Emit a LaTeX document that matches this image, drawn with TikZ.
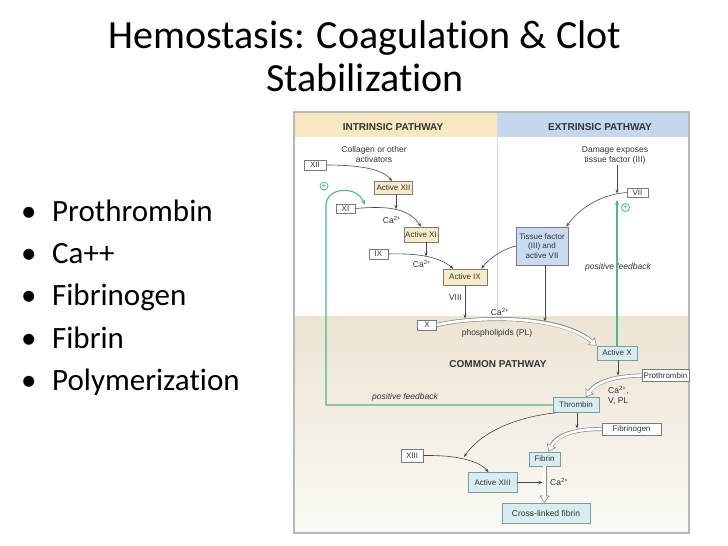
\documentclass[tikz,border=0pt]{standalone}
\usepackage{fontspec}
\setmainfont{Carlito}[Ligatures={NoCommon,NoContextual}, Contextuals=NoAlternate]
\newfontfamily\dfont{Liberation Sans}
\usetikzlibrary{arrows.meta}
\definecolor{inthead}{HTML}{F7E8C2}
\definecolor{exthead}{HTML}{C3D8EE}
\definecolor{intfill}{HTML}{F8EBC8}
\definecolor{extfill}{HTML}{C8DBF0}
\definecolor{comfill}{HTML}{D8EDEF}
\definecolor{comborder}{HTML}{7C9C9C}
\definecolor{boxgray}{HTML}{7A7A7A}
\definecolor{txtgray}{HTML}{333333}
\definecolor{arrgray}{HTML}{474747}
\definecolor{hollowgray}{HTML}{8A8A8A}
\definecolor{framegray}{HTML}{B8B8B8}
\definecolor{divgray}{HTML}{D8D8D8}
\definecolor{combgtop}{HTML}{ECE4D3}
\definecolor{combgbot}{HTML}{FBF9F5}
\definecolor{fbgreen}{HTML}{55B28E}
\tikzset{
  lbl/.style={font=\dfont\fontsize{8.5}{10}\selectfont, text=txtgray, inner sep=0pt},
  plbl/.style={lbl, font=\dfont\itshape\fontsize{8.5}{10}\selectfont},
  hdr/.style={font=\dfont\bfseries\fontsize{10}{11}\selectfont, text=txtgray, inner sep=0pt},
  box/.style={draw=boxgray, line width=0.6pt, font=\dfont\fontsize{8}{9.6}\selectfont, text=txtgray, inner sep=0pt, align=center},
  wbox/.style={box, fill=white},
  ibox/.style={box, fill=intfill},
  ebox/.style={box, fill=extfill},
  cbox/.style={box, fill=comfill, draw=comborder},
  thinarr/.style={draw=arrgray, line width=0.6pt, -{Stealth[length=4pt,width=3pt]}},
  grn/.style={draw=fbgreen, line width=1.1pt},
  plus/.style={circle, draw=fbgreen, line width=0.8pt, inner sep=0pt, minimum size=8pt, text=fbgreen, font=\dfont\bfseries\fontsize{7}{7}\selectfont},
  hollow/.style={draw=hollowgray, line width=4pt, -{Triangle[length=7pt,width=10pt,fill=white,line width=0.6pt]}, postaction={draw=white, line width=2.6pt, -, shorten >=5pt}},
  bul/.style={font=\fontsize{31}{34}\selectfont, inner sep=0pt, anchor=base west}
}
\begin{document}
\begin{tikzpicture}[x=1pt, y=-1pt]
\useasboundingbox (0,0) rectangle (728,546);
\fill[white] (0,0) rectangle (728,546);
% title
\node[font=\fontsize{40}{43}\selectfont, align=center, inner sep=0pt] (title) at (365,56.5) {Hemostasis: Coagulation \& Clot\\Stabilization};
% bullets
\node[bul] (b1) at (21,221) {\makebox[31pt][l]{•}Prothrombin};
\node[bul] (b2) at (21,263) {\makebox[31pt][l]{•}Ca++};
\node[bul] (b3) at (21,305) {\makebox[31pt][l]{•}Fibrinogen};
\node[bul] (b4) at (21,348) {\makebox[31pt][l]{•}Fibrin};
\node[bul] (b5) at (21,390) {\makebox[31pt][l]{•}Polymerization};
% diagram background
\fill[inthead] (295,113) rectangle (497,137);
\fill[exthead] (497,113) rectangle (688,137);
\fill[white] (295,137) rectangle (688,316);
\shade[top color=combgtop, bottom color=combgbot] (295,316) rectangle (688,532);
\draw[divgray, line width=0.8pt] (497,113) -- (497,316);
\draw[framegray, line width=1.6pt] (294,112) rectangle (689,533);
\node[hdr] (hint) at (393,127) {INTRINSIC PATHWAY};
\node[hdr] (hext) at (600,127) {EXTRINSIC PATHWAY};
\node[hdr] (hcom) at (498,364) {COMMON PATHWAY};
% annotations
\node[lbl, align=center] (coll) at (374,154.5) {Collagen or other\\activators};
\node[lbl, align=center] (dmg) at (615,155.5) {Damage exposes\\tissue factor (III)};
% boxes
\node[wbox, minimum width=22pt, minimum height=10pt] (xii) at (315,165) {XII};
\node[ibox, minimum width=38pt, minimum height=13pt] (axii) at (393.5,188) {Active XII};
\node[wbox, minimum width=19pt, minimum height=9pt] (xi) at (345.5,208.5) {XI};
\node[ibox, minimum width=34pt, minimum height=15pt] (axi) at (421,234.5) {Active XI};
\node[wbox, minimum width=19pt, minimum height=10pt] (ix) at (378.5,254) {IX};
\node[ibox, minimum width=44pt, minimum height=16pt] (aix) at (465,277) {Active IX};
\node[ebox, minimum width=52pt, minimum height=38pt] (tf) at (542,246) {Tissue factor\\(III) and\\active VII};
\node[wbox, minimum width=21pt, minimum height=9pt] (vii) at (637.5,192.5) {VII};
\node[wbox, minimum width=19pt, minimum height=10pt] (x) at (427,325) {X};
\node[cbox, minimum width=40pt, minimum height=14pt] (ax) at (617,353) {Active X};
\node[wbox, minimum width=47pt, minimum height=12pt] (proth) at (665.5,375.5) {Prothrombin};
\node[cbox, minimum width=46pt, minimum height=15pt] (thr) at (576,405) {Thrombin};
\node[wbox, minimum width=59pt, minimum height=12pt] (fibg) at (631.5,429) {Fibrinogen};
\node[cbox, minimum width=31pt, minimum height=14pt] (fib) at (544.5,459) {Fibrin};
\node[wbox, minimum width=22pt, minimum height=13pt] (xiii) at (412,455.5) {XIII};
\node[cbox, minimum width=49pt, minimum height=20pt] (axiii) at (492.5,482.5) {Active XIII};
\node[cbox, minimum width=88pt, minimum height=20pt, font=\dfont\fontsize{8.5}{10}\selectfont] (clf) at (546,513) {Cross-linked fibrin};
% labels
\node[lbl] (ca1) at (392,220) {Ca\textsuperscript{2+}};
\node[lbl] (ca2) at (422,264) {Ca\textsuperscript{2+}};
\node[lbl, anchor=east] (viii) at (462,298) {VIII};
\node[lbl] (ca3) at (500,312) {Ca\textsuperscript{2+}};
\node[lbl] (pl) at (497,333) {phospholipids (PL)};
\node[lbl, anchor=west, align=left] (ca4) at (608,395.5) {Ca\textsuperscript{2+},\\V, PL};
\node[lbl, anchor=west] (ca5) at (550,482) {Ca\textsuperscript{2+}};
\node[plbl] (pfr) at (618,267) {positive feedback};
\node[plbl] (pfl) at (405,397) {positive feedback};
% coordinates on curves
\coordinate (onxi) at (396,209);
\coordinate (onix) at (426,256.5);
\coordinate (onx1) at (465,318.5);
\coordinate (onx2) at (545,321.5);
\coordinate (onvii) at (617,193.5);
\coordinate (onpro) at (618,375.5);
\coordinate (onfib) at (577,428.5);
\coordinate (onxiii) at (464,457);
\coordinate (onclf) at (542.5,482.5);
\coordinate (gtop) at (617,200);
\coordinate (gturn) at (326,205);
\coordinate (gend) at (365,205);
% hollow arrows
\draw[hollow] (x.east) .. controls (475,316) and (560,314) .. (ax.north west);
\draw[hollow] (proth.west) .. controls (612,376) and (595,383) .. ([xshift=10pt]thr.north);
\draw[hollow] (fibg.west) .. controls (572,429) and (556,436) .. ([xshift=4pt]fib.north);
\draw[hollow] (fib.south) -- (fib.south |- clf.north);
% thin arrows
\draw[thinarr] (xii.east) .. controls (355,165) and (382,168) .. ([xshift=-1.5pt]axii.north);
\draw[thinarr] (axii.south -| onxi) -- (onxi);
\draw[thinarr] (xi.east) .. controls (385,206) and (408,207) .. (axi.north);
\draw[thinarr] (axi.south -| onix) -- (onix);
\draw[thinarr] (ix.east) .. controls (418,253) and (440,257) .. ([xshift=-12pt]aix.north);
\draw[thinarr] (tf.west) .. controls (500,250) and (488,260) .. ([xshift=-6pt]aix.north east);
\draw[thinarr] (aix.south) -- (onx1);
\draw[thinarr] (tf.south -| onx2) -- (onx2);
\draw[thinarr] (dmg.south -| onvii) -- (onvii);
\draw[thinarr] (vii.west) .. controls (605,194) and (582,205) .. ([xshift=-2pt]tf.north east);
\draw[thinarr] (ax.south -| onpro) -- (onpro);
\draw[thinarr] (thr.south -| onfib) -- (onfib);
\draw[thinarr] ([xshift=-20pt]thr.south) .. controls (515,417) and (480,433) .. (onxiii);
\draw[thinarr] (xiii.east) .. controls (455,455) and (478,460) .. ([xshift=-4pt]axiii.north);
\draw[thinarr] (axiii.east) -- (onclf);
% green feedback
\draw[grn, -{Stealth[length=5pt,width=4pt]}] (ax.north) -- (gtop);
\node[plus] (plr) at (625.5,207.5) {+};
\draw[grn, -{Stealth[length=5pt,width=4pt]}] (thr.west) -- (thr.west -| gturn) -- (gturn) .. controls (326,188) and (356,184) .. (gend);
\node[plus] (pll) at (324,186) {+};
\end{tikzpicture}
\end{document}
